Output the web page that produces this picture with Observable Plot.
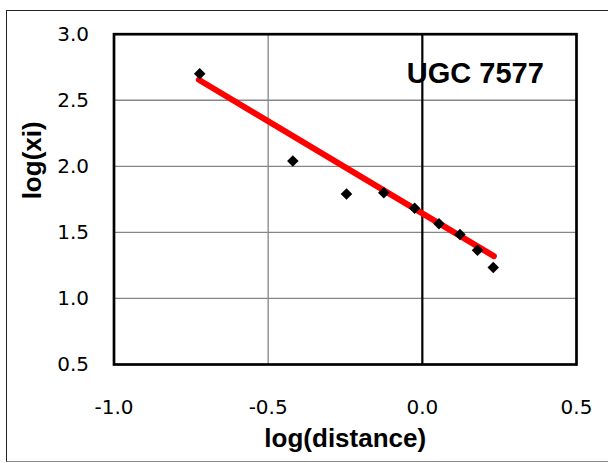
<!DOCTYPE html>
<html>
<head>
<meta charset="utf-8">
<script src="https://cdn.jsdelivr.net/npm/d3@7"></script>
<script src="https://cdn.jsdelivr.net/npm/@observablehq/plot@0.6"></script>
<style>
  html, body { margin: 0; padding: 0; background: #fff; }
  #wrap { position: relative; width: 608px; height: 463px; overflow: hidden; }
  #wrap svg { position: absolute; left: 0; top: 0; }
  #outer { position: absolute; left: 6px; top: 10px; width: 620px; height: 452px;
           border: 1.5px solid #222; border-bottom-color: #8a8a8a; box-sizing: border-box; }
  g[aria-label="xtick"] text, g[aria-label="ytick"] text { letter-spacing: 0.5px; }
</style>
</head>
<body>
<div id="wrap"><div id="outer"></div></div>
<script>
// Data
const logDistance = [-0.722, -0.420, -0.246, -0.125, -0.025, 0.054, 0.122, 0.179, 0.230];
const logXi       = [2.70, 2.04, 1.79, 1.80, 1.683, 1.565, 1.484, 1.365, 1.234];
// Trend line (as drawn in the reference)
const fitX = [-0.725, 0.232];
const fitY = [2.655, 1.32];
// Axes
const xTicks = [-1.0, -0.5, 0.0, 0.5];
const yTicks = [0.5, 1.0, 1.5, 2.0, 2.5, 3.0];
const xGrid = [-0.5];
const xZero = [0.0];
const yGrid = [1.0, 1.5, 2.0, 2.5];
const xTitle = ["log(distance)"];
const yTitle = ["log(xi)"];
const label = ["UGC 7577"];

const points = logDistance.map((x, i) => ({x, y: logXi[i]}));
const fit = fitX.map((x, i) => ({x, y: fitY[i]}));
const fmt = d => d.toFixed(1);
const bold = "'Liberation Sans', Arial, sans-serif";
const reg = "'DejaVu Sans', sans-serif";

const chart = Plot.plot({
  width: 608,
  height: 463,
  marginLeft: 113.5,
  marginRight: 32,
  marginTop: 33.7,
  marginBottom: 99,
  x: {domain: [-1, 0.5], axis: null},
  y: {domain: [0.5, 3], axis: null},
  style: {fontFamily: reg, background: "transparent", color: "#000"},
  marks: [
    Plot.ruleY(yGrid, {y: d => d, stroke: "#868686", strokeWidth: 1.3}),
    Plot.ruleX(xGrid, {x: d => d, stroke: "#868686", strokeWidth: 1.3}),
    Plot.ruleX(xZero, {x: d => d, stroke: "#000", strokeWidth: 2.2}),
    Plot.line(fit, {x: "x", y: "y", stroke: "#ff0000", strokeWidth: 6, strokeLinecap: "round"}),
    Plot.dot(points, {x: "x", y: "y", symbol: "square", rotate: 45, r: 4.6, fill: "#000", stroke: null}),
    Plot.frame({stroke: "#000", strokeWidth: 2.7}),
    Plot.text(xTicks, {x: d => d, text: fmt, frameAnchor: "bottom", lineAnchor: "middle", dy: 43,
      fontSize: 20, fontFamily: reg, fill: "#000", ariaLabel: "xtick"}),
    Plot.text(yTicks, {y: d => d, text: fmt, frameAnchor: "left", textAnchor: "end", lineAnchor: "middle", dx: -25,
      fontSize: 20, fontFamily: reg, fill: "#000", ariaLabel: "ytick"}),
    Plot.text(xTitle, {frameAnchor: "bottom", lineAnchor: "middle", dy: 74, fontSize: 26, fontWeight: "bold", fontFamily: bold, fill: "#000"}),
    Plot.text(yTitle, {frameAnchor: "left", lineAnchor: "middle", rotate: -90, dx: -81, fontSize: 26, fontWeight: "bold", fontFamily: bold, fill: "#000"}),
    Plot.text(label, {frameAnchor: "top-right", textAnchor: "end", lineAnchor: "middle", dx: -32.7, dy: 39.3, fontSize: 29, fontWeight: "bold", fontFamily: bold, fill: "#000"})
  ]
});
document.getElementById("wrap").prepend(chart);
</script>
</body>
</html>
